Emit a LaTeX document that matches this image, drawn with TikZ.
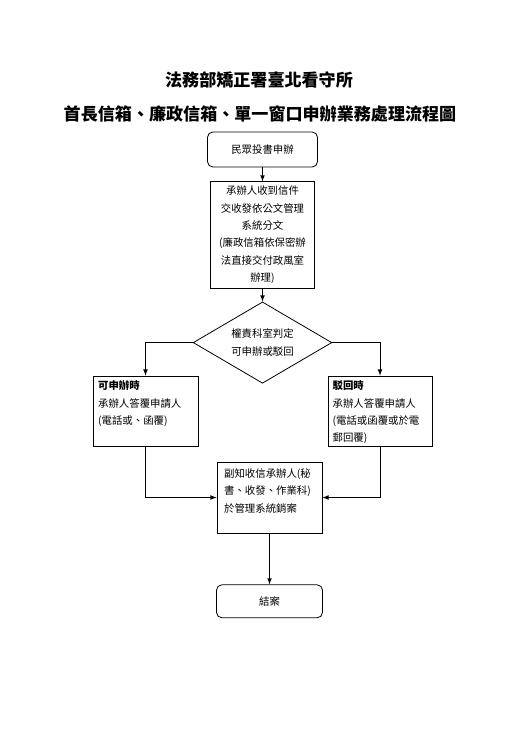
\documentclass[tikz,border=0pt]{standalone}
\usepackage{fontspec}
\setmainfont{Noto Sans CJK TC}
\usetikzlibrary{arrows,positioning,shapes.geometric}
\newcommand{\bodyfont}{\fontsize{7.8pt}{13pt}\selectfont}
\newcommand{\topbox}[3]{\parbox[c][#2][t]{#1}{#3}}

\begin{document}
\begin{tikzpicture}[
x=0.75pt, y=-0.75pt,
titlenode/.style={font=\fontsize{12.8pt}{15pt}\selectfont\bfseries},
roundbox/.style={rectangle, rounded corners=4pt, draw, line width=0.6pt, font=\bodyfont},
squarebox/.style={rectangle, draw, line width=0.6pt, font=\bodyfont},
decision/.style={diamond, aspect=1.7, draw, line width=0.6pt, font=\bodyfont, align=center, inner sep=1pt},
node distance=10.5pt]
\useasboundingbox (0,0) rectangle (519,734);
% Title
\node[titlenode] (title1) at (259,79.5) {法務部矯正署臺北看守所};
\node[titlenode] (title2) at (260,114) {首長信箱、廉政信箱、單一窗口申辦業務處理流程圖};
% Nodes
\node[roundbox, minimum width=82.5pt, minimum height=26.25pt] (apply) at (262.5,149.5) {民眾投書申辦};
\node[squarebox, minimum width=78pt, minimum height=78.75pt, align=center] (assign) [below=of apply]
  {承辦人收到信件\\交收發依公文管理\\系統分文\\(廉政信箱依保密辦\\法直接交付政風室\\辦理)};
\node[decision, minimum width=104pt, minimum height=61pt] (check) [below=9.75pt of assign] {權責科室判定\\可申辦或駁回};
\node[squarebox, minimum width=78.75pt, minimum height=52.5pt, inner sep=3.5pt] (accept) at (145.5,411)
  {\topbox{71pt}{45pt}{\textbf{可申辦時}\\承辦人答覆申請人\\(電話或、函覆)}};
\node[squarebox, minimum width=78pt, minimum height=52.5pt, inner sep=3.5pt] (reject) at (380,411)
  {\topbox{71pt}{45pt}{\textbf{駁回時}\\承辦人答覆申請人\\(電話或函覆或於電\\郵回覆)}};
\node[squarebox, minimum width=78.75pt, minimum height=53.25pt, inner sep=5pt] (notify) at (269.5,497.5)
  {\topbox{68pt}{43pt}{副知收信承辦人(秘\\書、收發、作業科)\\於管理系統銷案}};
\node[roundbox, minimum width=79.5pt, minimum height=24.75pt] (close) [below=38.25pt of notify] {結案};
% Lines
\draw[line width=0.6pt, arrows={-latex}] (apply) -- (assign);
\draw[line width=0.6pt, arrows={-latex}] (assign) -- (check);
\draw[line width=0.6pt, arrows={-latex}] (check.west) -| (accept);
\draw[line width=0.6pt, arrows={-latex}] (check.east) -| (reject);
\draw[line width=0.6pt, arrows={-latex}] (accept) |- (notify);
\draw[line width=0.6pt, arrows={-latex}] (reject) |- (notify);
\draw[line width=0.6pt, arrows={-latex}] (notify) -- (close);
\end{tikzpicture}
\end{document}
